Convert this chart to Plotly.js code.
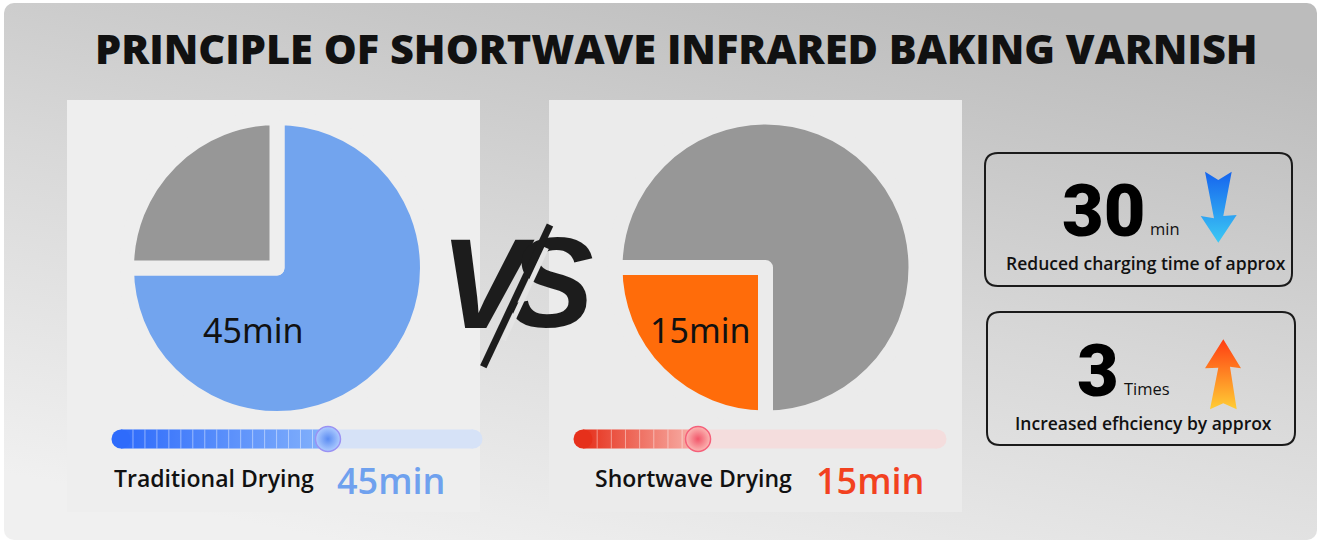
<!DOCTYPE html>
<html>
<head>
<meta charset="utf-8">
<script src="https://cdn.plot.ly/plotly-3.0.1.min.js"></script>
<style>html,body{margin:0;padding:0;background:#fff;}#chart{width:1321px;height:543px;}</style>
</head>
<body>
<div id="chart"></div>
<script>
// ---------- data ----------
const titleText = "PRINCIPLE OF SHORTWAVE INFRARED BAKING VARNISH";
const categories = ["Drying time", "Remaining"];
const traditionalMinutes = [45, 15];
const shortwaveMinutes = [15, 45];
const dryingLabels = ["Traditional Drying", "Shortwave Drying"];
const dryingMinutes = [45, 15];
const sliderProgress = [0.588, 0.325];
const summaryValues = ["30", "3"];
const summaryUnits = ["min", "Times"];
const summaryCaptions = ["Reduced charging time of approx", "Increased efhciency by approx"];
const vsLetters = ["V", "S"];

// ---------- styling ----------
const W = 1321, H = 543;
const BLUE = "#72a4ee", GRAY = "#979797", ORANGE = "#ff6c0a";
const LBL_BLUE = "#6fa1ee", LBL_RED = "#f2411f";
const PANEL_L = "#eeeeee", PANEL_R = "#ebebeb";

const bgSvg = "<svg xmlns='http://www.w3.org/2000/svg' width='1321' height='543' viewBox='0 0 1321 543'>" +
  "<defs>" +
  "<linearGradient id='bg' x1='0.25' y1='1' x2='0.75' y2='0'>" +
  "<stop offset='0' stop-color='#f0f0f0'/><stop offset='0.5' stop-color='#d8d8d8'/><stop offset='1' stop-color='#bcbcbc'/></linearGradient>" +
  "</defs>" +
  "<rect x='0' y='0' width='1321' height='543' fill='#ffffff'/>" +
  "<rect x='4' y='3' width='1313' height='537' rx='10' fill='url(#bg)'/>" +
  "<rect x='67' y='100' width='413' height='412' fill='" + PANEL_L + "'/>" +
  "<rect x='549' y='100' width='413' height='412' fill='" + PANEL_R + "'/>" +
  "</svg>";

function rr(x0, y0, x1, y1, r) {
  return `M${x0 + r},${y0} H${x1 - r} Q${x1},${y0} ${x1},${y0 + r} V${y1 - r} Q${x1},${y1} ${x1 - r},${y1} H${x0 + r} Q${x0},${y1} ${x0},${y1 - r} V${y0 + r} Q${x0},${y0} ${x0 + r},${y0} Z`;
}

function dom(cx, cy, r) {
  return { x: [(cx - r) / W, (cx + r) / W], y: [(H - cy - r) / H, (H - cy + r) / H] };
}

const traces = [];

traces.push({
  type: "pie", labels: categories, values: traditionalMinutes, sort: false,
  direction: "clockwise", rotation: 0, textinfo: "none", hoverinfo: "skip",
  marker: { colors: [BLUE, GRAY], line: { color: PANEL_L, width: 15 } },
  domain: dom(277, 268, 150.5), showlegend: false
});
traces.push({
  type: "pie", labels: categories, values: shortwaveMinutes, sort: false,
  direction: "clockwise", rotation: 180, textinfo: "none", hoverinfo: "skip",
  marker: { colors: [ORANGE, GRAY], line: { color: PANEL_R, width: 15 } },
  domain: dom(765.5, 267.5, 150.5), showlegend: false
});

// sliders
const sliderStyles = [
  { ax: "x2", track: "#d6e2f7", c0: "#2e6bfb", c1: "#84b2fb", knob: "#afccff", knobEdge: "#5b8cf2", knobLine: "#9a92f3", seg: 0.034 },
  { ax: "x3", track: "#f4dddd", c0: "#e6301b", c1: "#f8b4ad", knob: "#fbb8b4", knobEdge: "#f2566a", knobLine: "#f5607a", seg: 0.04 }
];
const yc = 439, hh = 9.5;
sliderProgress.forEach((p, i) => {
  const s = sliderStyles[i];
  traces.push({ type: "scatter", xaxis: s.ax, yaxis: "y", x: [0, 1], y: [yc, yc], mode: "lines+markers", cliponaxis: false,
    line: { color: s.track, width: 19 }, marker: { size: 19, color: s.track }, hoverinfo: "skip", showlegend: false });
  traces.push({ type: "scatter", xaxis: s.ax, yaxis: "y", x: [0, p, p, 0, 0], y: [yc - hh, yc - hh, yc + hh, yc + hh, yc - hh],
    mode: "lines", line: { width: 0 }, fill: "toself", cliponaxis: false,
    fillgradient: { type: "horizontal", colorscale: [[0, s.c0], [1, s.c1]] }, hoverinfo: "skip", showlegend: false });
  traces.push({ type: "scatter", xaxis: s.ax, yaxis: "y", x: [0], y: [yc], mode: "markers", cliponaxis: false,
    marker: { size: 19, color: s.c0 }, hoverinfo: "skip", showlegend: false });
  const sx = [], sy = [];
  for (let k = s.seg; k < p - 0.01; k += s.seg) { sx.push(k, k, null); sy.push(yc - hh, yc + hh, null); }
  traces.push({ type: "scatter", xaxis: s.ax, yaxis: "y", x: sx, y: sy, mode: "lines",
    line: { color: "rgba(255,255,255,0.45)", width: 1 }, hoverinfo: "skip", showlegend: false });
  traces.push({ type: "scatter", xaxis: s.ax, yaxis: "y", x: [p], y: [yc], mode: "markers", cliponaxis: false,
    marker: { size: 25, color: s.knob, gradient: { type: "radial", color: s.knobEdge }, line: { color: s.knobLine, width: 1.5 } },
    hoverinfo: "skip", showlegend: false });
});

// VS letters
traces.push({ type: "scatter", xaxis: "x", yaxis: "y", x: [483, 551], y: [296, 295], text: vsLetters, mode: "text",
  textposition: "middle center", cliponaxis: false,
  textfont: { family: "Liberation Sans", size: 128, weight: "bold", style: "italic", color: "#1c1c1c" },
  hoverinfo: "skip", showlegend: false });

// arrows
const downArrow = { x: [1205, 1218.3, 1231.7, 1223.3, 1236.7, 1218.3, 1200.7, 1214, 1205], y: [171.7, 180, 171.7, 216, 215, 242.7, 216, 218.3, 171.7] };
const upArrow = { x: [1223.3, 1241, 1230, 1236.7, 1223.3, 1210, 1218.3, 1205, 1223.3], y: [339.3, 368.3, 366.7, 409.3, 403.3, 409.3, 367.7, 368.3, 339.3] };
traces.push({ type: "scatter", xaxis: "x", yaxis: "y", x: downArrow.x, y: downArrow.y, mode: "lines", line: { width: 0 },
  fill: "toself", fillgradient: { type: "vertical", start: 171, stop: 243, colorscale: [[0, "#1563ee"], [1, "#3ccaf4"]] },
  hoverinfo: "skip", showlegend: false });
traces.push({ type: "scatter", xaxis: "x", yaxis: "y", x: upArrow.x, y: upArrow.y, mode: "lines", line: { width: 0 },
  fill: "toself", fillgradient: { type: "vertical", start: 339, stop: 410, colorscale: [[0, "#ff3c12"], [1, "#ffcf35"]] },
  hoverinfo: "skip", showlegend: false });

const annotations = [];
function ann(text, x, y, size, opts) {
  opts = opts || {};
  const a = { text: text, x: x, y: y, xref: "x", yref: "y", showarrow: false,
    xanchor: opts.xanchor || "center", yanchor: "middle",
    font: Object.assign({ family: "Open Sans", size: size, color: "#111" }, opts.font || {}) };
  annotations.push(a);
}
const BIG = "Roboto";
ann(titleText, 676.5, 48, 41.5, { font: { weight: 800, color: "#111" } });
ann(`${traditionalMinutes[0]}min`, 253, 330, 34, { font: { family: "Noto Sans" } });
ann(`${shortwaveMinutes[0]}min`, 700, 330, 34, { font: { family: "Noto Sans" } });
ann(dryingLabels[0], 112, 478, 23, { xanchor: "left", font: { weight: 600 } });
ann(`${dryingMinutes[0]}min`, 335, 480, 36, { xanchor: "left", font: { weight: 600, color: LBL_BLUE } });
ann(dryingLabels[1], 593, 478, 23, { xanchor: "left", font: { weight: 600 } });
ann(`${dryingMinutes[1]}min`, 814, 480, 36, { xanchor: "left", font: { weight: 600, color: LBL_RED } });
ann(summaryValues[0], 1103, 211, 72, { font: { family: BIG, weight: 900, color: "#000" } });
ann(summaryUnits[0], 1148, 228, 16.5, { xanchor: "left", font: { weight: 500 } });
ann(summaryCaptions[0], 1146, 263, 17.5, { font: { weight: 600 } });
ann(summaryValues[1], 1097.5, 371, 72, { font: { family: BIG, weight: 900, color: "#000" } });
ann(summaryUnits[1], 1122, 388, 16.5, { xanchor: "left", font: { weight: 500 } });
ann(summaryCaptions[1], 1143, 423, 17.5, { font: { weight: 600 } });

const shapes = [
  { type: "path", xref: "x", yref: "y", path: rr(985, 153, 1292, 286, 13), line: { color: "#1a1a1a", width: 2 }, fillcolor: "rgba(0,0,0,0)", layer: "above" },
  { type: "path", xref: "x", yref: "y", path: rr(987, 312, 1295, 445, 13), line: { color: "#1a1a1a", width: 2 }, fillcolor: "rgba(0,0,0,0)", layer: "above" },
  { type: "line", xref: "x", yref: "y", x0: 546.5, y0: 248, x1: 503.5, y1: 340, line: { color: "#e4e4e4", width: 5 }, layer: "above" },
  { type: "line", xref: "x", yref: "y", x0: 550, y0: 225, x1: 483.3, y1: 366.7, line: { color: "#1c1c1c", width: 7 }, layer: "above" }
];

const axPix = { visible: false, fixedrange: true, showgrid: false, zeroline: false };
const layout = {
  width: W, height: H, margin: { l: 0, r: 0, t: 0, b: 0, pad: 0 },
  paper_bgcolor: "#ffffff", plot_bgcolor: "rgba(0,0,0,0)", showlegend: false, hovermode: false,
  xaxis: Object.assign({ range: [0, W], domain: [0, 1] }, axPix),
  yaxis: Object.assign({ range: [H, 0], domain: [0, 1] }, axPix),
  xaxis2: Object.assign({ range: [0, 1], domain: [121 / W, 473 / W], anchor: "y" }, axPix),
  xaxis3: Object.assign({ range: [0, 1], domain: [583 / W, 937 / W], anchor: "y" }, axPix),
  images: [{ source: "data:image/svg+xml;charset=utf-8," + encodeURIComponent(bgSvg), xref: "paper", yref: "paper",
    x: 0, y: 1, sizex: 1, sizey: 1, sizing: "stretch", xanchor: "left", yanchor: "top", layer: "below" }],
  annotations: annotations, shapes: shapes
};
Plotly.newPlot("chart", traces, layout, { staticPlot: true, displayModeBar: false });
</script>
</body>
</html>
